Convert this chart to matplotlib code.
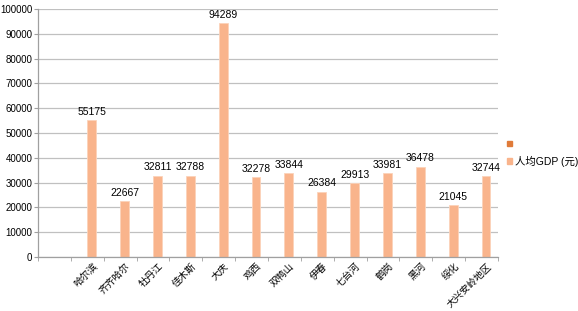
import numpy as np
import matplotlib.pyplot as plt
from matplotlib.patches import Patch

plt.rcParams['font.family'] = ['Liberation Sans', 'Noto Sans CJK SC', 'DejaVu Sans']

cities = ['', '哈尔滨', '齐齐哈尔', '牡丹江', '佳木斯', '大庆', '鸡西', '双鸭山',
          '伊春', '七台河', '鹤岗', '黑河', '绥化', '大兴安岭地区']
gdp = [None, 55175, 22667, 32811, 32788, 94289, 32278, 33844,
       26384, 29913, 33981, 36478, 21045, 32744]
series_names = ['', '人均GDP (元)']
colors = ['#E07B39', '#F9B48C']

fig = plt.figure(figsize=(5.78, 3.11), dpi=100)
ax = fig.add_axes([38 / 578, 1 - 257 / 311, 460 / 578, 248 / 311])

x = np.arange(len(cities))
w = 0.27
vals = np.array([np.nan if v is None else v for v in gdp], dtype=float)

# first series has no values, only the legend entry
ax.bar(x - w / 2, np.zeros(len(x)), w, color=colors[0])
ax.bar(x + w / 2, vals, w, color=colors[1], edgecolor='#FCD3BA', linewidth=0.6)

for xi, v in zip(x, vals):
    if not np.isnan(v):
        ax.text(xi + w / 2, v + 1300, f'{int(v)}', ha='center', va='bottom', fontsize=7.5)

ax.set_xlim(-0.5, len(cities) - 0.5)
ax.set_ylim(0, 100000)
ax.set_yticks(range(0, 100001, 10000))
ax.tick_params(axis='y', labelsize=7, length=3, color='#A0A0A0', pad=1)
ax.yaxis.grid(True, color='#C0C0C0', linewidth=0.9)
ax.set_axisbelow(True)

ax.set_xticks(x + 0.15)
ax.set_xticklabels(cities, rotation=45, ha='right', rotation_mode='anchor',
                   fontsize=7, family=['Noto Sans CJK SC', 'DejaVu Sans'])
ax.tick_params(axis='x', length=0, pad=3)
ax.set_xticks(np.arange(len(cities) + 1) - 0.5, minor=True)
ax.tick_params(axis='x', which='minor', length=3, color='#A0A0A0')

for s in ['top', 'right']:
    ax.spines[s].set_visible(False)
for s in ['left', 'bottom']:
    ax.spines[s].set_color('#A0A0A0')
    ax.spines[s].set_linewidth(0.9)

handles = [Patch(color=c) for c in colors]
ax.legend(handles, series_names, loc='center left', bbox_to_anchor=(1.01, 0.42),
          frameon=False, handlelength=0.5, handleheight=0.5, handletextpad=0.3,
          labelspacing=0.6, borderaxespad=0,
          prop={'family': ['Liberation Sans', 'Noto Sans CJK SC'], 'size': 7.5})

fig.savefig('out.png', dpi=100)
